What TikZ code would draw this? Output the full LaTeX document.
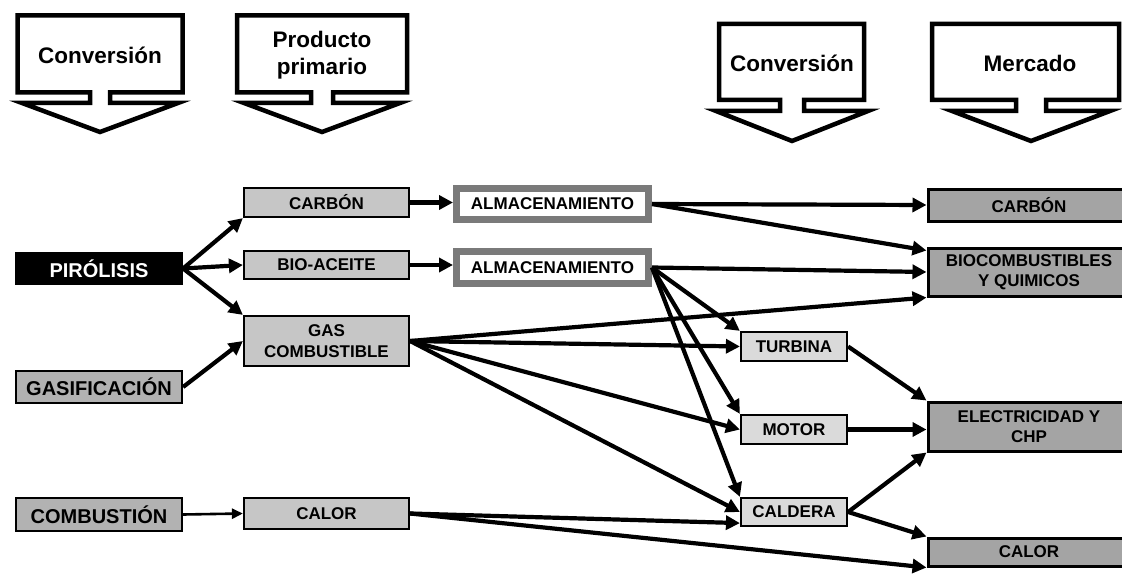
\documentclass[tikz,border=0pt]{standalone}
\usepackage{fontspec}
\setmainfont{Liberation Sans}
\usetikzlibrary{arrows.meta,calc}
\definecolor{gLeft}{RGB}{178,178,178}
\definecolor{gPrim}{RGB}{198,198,198}
\definecolor{gConv}{RGB}{218,218,218}
\definecolor{gMkt}{RGB}{164,164,164}
\definecolor{gAlm}{RGB}{122,122,122}
\begin{document}
\begin{tikzpicture}[x=1pt,y=-1pt,
  hdr/.style={draw=black,line width=4.5pt,line join=miter},
  hdrtxt/.style={font=\fontsize{22.5}{27}\selectfont\bfseries,align=center,inner sep=0pt},
  box/.style={draw=black,line width=2.2pt,inner sep=0pt,align=center,
    font=\fontsize{17}{20.5}\selectfont\bfseries},
  srcbox/.style={box,font=\fontsize{20}{24}\selectfont\bfseries,minimum width=166pt},
  primbox/.style={box,fill=gPrim,minimum width=165pt},
  almbox/.style={box,draw=gAlm,line width=7pt,fill=white,minimum width=192pt},
  convbox/.style={box,fill=gConv,minimum width=106pt},
  mktbox/.style={box,line width=3pt,fill=gMkt,minimum width=202pt},
  flow/.style={line width=4.2pt,-{Triangle[length=14pt,width=14pt]}},
  thinflow/.style={line width=2.6pt,-{Triangle[length=11pt,width=10pt]}}
]
\clip (0,0) rectangle (1122,575);
\fill[white] (0,0) rectangle (1122,575);

% header shapes
\draw[hdr] (90,92.5) -- (17.5,92.5) -- (17.5,15.5) -- (182.5,15.5) -- (182.5,92.5) -- (110,92.5)
  -- (110,103) -- (178,103) -- (100,132) -- (22,103) -- (90,103) -- cycle;
\draw[hdr] (311,92.5) -- (237,92.5) -- (237,15.5) -- (407,15.5) -- (407,92.5) -- (333,92.5)
  -- (333,103) -- (400,103) -- (322,132) -- (244,103) -- (311,103) -- cycle;
\draw[hdr] (780,100) -- (719,100) -- (719,24) -- (864,24) -- (864,100) -- (804,100)
  -- (804,111) -- (868,111) -- (792,141) -- (716,111) -- (780,111) -- cycle;
\draw[hdr] (1016,100) -- (932,100) -- (932,24) -- (1119,24) -- (1119,100) -- (1046,100)
  -- (1046,111) -- (1110,111) -- (1031,141) -- (952,111) -- (1016,111) -- cycle;
\node[hdrtxt] (h1) at (100,55) {Conversión};
\node[hdrtxt] (h2) at (322,55) {Producto\\primario};
\node[hdrtxt] (h3) at (792,63) {Conversión};
\node[hdrtxt] (h4) at (1030,63) {Mercado};

% source column
\node[srcbox,fill=black,text=white,minimum height=31pt] (pir) at (99,268.5) {PIRÓLISIS};
\node[srcbox,fill=gLeft,minimum height=32pt] (gasif) at (99,387) {GASIFICACIÓN};
\node[srcbox,fill=gLeft,minimum height=33pt] (comb) at (99,514.5) {COMBUSTIÓN};

% primary products
\node[primbox,minimum height=29pt] (carb1) at (326.5,202.5) {CARBÓN};
\node[primbox,minimum height=28pt] (bio) at (326.5,265) {BIO-ACEITE};
\node[primbox,minimum height=50pt] (gasc) at (326.5,341) {GAS\\COMBUSTIBLE};
\node[primbox,minimum height=31pt] (cal1) at (326.5,513.5) {CALOR};

% storage
\node[almbox,minimum height=31pt] (alm1) at (552.5,204) {ALMACENAMIENTO};
\node[almbox,minimum height=32pt] (alm2) at (552.5,267.5) {ALMACENAMIENTO};

% conversion
\node[convbox,minimum height=29pt] (turb) at (794,346.5) {TURBINA};
\node[convbox,minimum height=29pt] (motor) at (794,429.5) {MOTOR};
\node[convbox,minimum height=28pt] (cald) at (794,512) {CALDERA};

% market
\node[mktbox,minimum height=32pt] (mcarb) at (1029,205) {CARBÓN};
\node[mktbox,minimum height=48pt] (mbio) at (1029,272) {BIOCOMBUSTIBLES\\Y QUIMICOS};
\node[mktbox,minimum height=49pt] (melec) at (1029,426.5) {ELECTRICIDAD Y\\CHP};
\node[mktbox,minimum height=28pt] (mcal) at (1029,552) {CALOR};

% connectors
\draw[flow] (pir.east) -- (carb1.south west);
\draw[flow] (pir.east) -- (bio.west);
\draw[flow] (pir.east) -- (gasc.north west);
\draw[flow] (gasif.east) -- (gasc.west);
\draw[thinflow] (comb.east) -- (cal1.west);
\draw[flow] (carb1.east) -- (carb1.east -| alm1.west);
\draw[flow] (bio.east) -- (bio.east -| alm2.west);
\draw[flow] (alm1.east) -- (mcarb.west);
\draw[flow] (alm1.east) -- ($(mbio.north west)+(0,4)$);
\draw[flow] (alm2.east) -- (mbio.west);
\draw[flow] (alm2.east) -- (turb.north west);
\draw[flow] (alm2.east) -- (motor.north west);
\draw[flow] (alm2.east) -- (cald.north west);
\draw[flow] (gasc.east) -- (mbio.south west);
\draw[flow] (gasc.east) -- (turb.west);
\draw[flow] (gasc.east) -- (motor.west);
\draw[flow] (gasc.east) -- (cald.west);
\draw[flow] (cal1.east) -- ($(cald.south west)+(0,-4)$);
\draw[flow] (cal1.east) -- (mcal.south west);
\draw[flow] (turb.east) -- (melec.north west);
\draw[flow] (motor.east) -- (motor.east -| melec.west);
\draw[flow] (cald.east) -- (melec.south west);
\draw[flow] (cald.east) -- (mcal.north west);
\end{tikzpicture}
\end{document}
